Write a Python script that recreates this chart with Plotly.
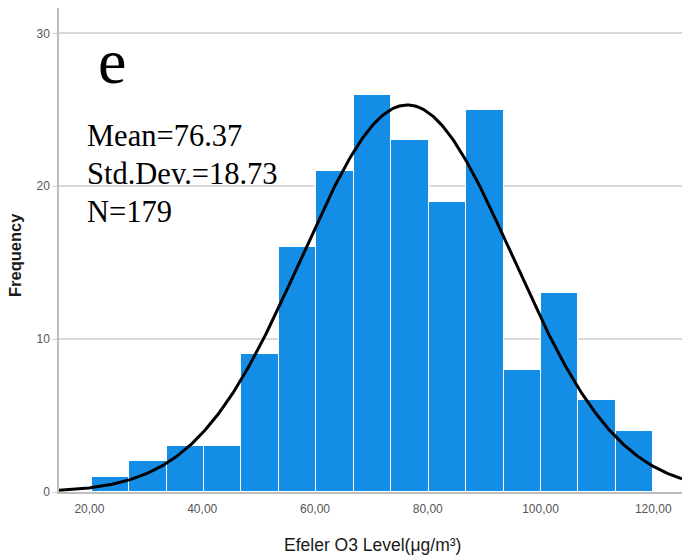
import numpy as np
import plotly.graph_objects as go

# Data
bin_start = 20.4
bin_width = 6.64
counts = [1, 2, 3, 3, 9, 16, 21, 26, 23, 19, 25, 8, 13, 6, 4]
mean_val = 76.37
sd_val = 18.73
n_val = 179
x_tickvals = [20, 40, 60, 80, 100, 120]
x_ticktext = ["20,00", "40,00", "60,00", "80,00", "100,00", "120,00"]
y_tickvals = [0, 10, 20, 30]
stats_lines = ["Mean=76.37", "Std.Dev.=18.73", "N=179"]
panel_label = "e"
x_title = "Efeler O3 Level(μg/m³)"
y_title = "Frequency"

centers = [bin_start + bin_width * (i + 0.5) for i in range(len(counts))]

x_min, x_max = 14.6, 125.1
xc = np.linspace(x_min, x_max, 400)
yc = n_val * bin_width / (sd_val * np.sqrt(2 * np.pi)) * np.exp(-0.5 * ((xc - mean_val) / sd_val) ** 2)

W, H = 682, 556
ML, MR, MT, MB = 59, 0, 8, 64
PW, PH = W - ML - MR, H - MT - MB


def px(xp):
    return (xp - ML) / PW


def py(yp):
    return (H - MB - yp) / PH


fig = go.Figure()
fig.add_trace(go.Bar(
    x=centers, y=counts, width=bin_width,
    marker=dict(color="#138DE6", line=dict(color="#FFFFFF", width=1)),
    hoverinfo="skip", showlegend=False,
))
fig.add_trace(go.Scatter(
    x=xc, y=yc, mode="lines",
    line=dict(color="#000000", width=3),
    hoverinfo="skip", showlegend=False,
))

ann = []
ann.append(dict(
    xref="paper", yref="paper", x=px(96), y=py(62),
    xanchor="left", yanchor="middle", text=panel_label, showarrow=False,
    font=dict(family="Liberation Serif", size=64, color="#000000"),
))
for i, s in enumerate(stats_lines):
    ann.append(dict(
        xref="paper", yref="paper", x=px(85), y=py(136 + 38 * i),
        xanchor="left", yanchor="middle", text=s, showarrow=False,
        font=dict(family="Liberation Serif", size=30.5, color="#000000"),
    ))
ann.append(dict(
    xref="paper", yref="paper", x=px(372), y=py(545),
    xanchor="center", yanchor="middle", text=x_title, showarrow=False,
    font=dict(family="Arial", size=17.5, color="#1A1A1A"),
))
ann.append(dict(
    xref="paper", yref="paper", x=px(15), y=py(255), textangle=-90,
    xanchor="center", yanchor="middle", text="<b>" + y_title + "</b>", showarrow=False,
    font=dict(family="Arial", size=16.5, color="#1A1A1A"),
))

fig.update_layout(
    width=W, height=H,
    margin=dict(l=ML, r=MR, t=MT, b=MB),
    paper_bgcolor="#FFFFFF", plot_bgcolor="#FFFFFF",
    bargap=0,
    annotations=ann,
    xaxis=dict(
        range=[x_min, x_max], tickvals=x_tickvals, ticktext=x_ticktext,
        automargin=False,
        showgrid=False, zeroline=False, showline=True, linecolor="#BDBDBD", linewidth=1.5,
        ticks="outside", ticklen=5, tickcolor="rgba(0,0,0,0)",
        tickfont=dict(family="Arial", size=12, color="#555555"),
    ),
    yaxis=dict(
        range=[0, 31.66], tickvals=y_tickvals, automargin=False,
        showgrid=True, gridcolor="#D9D9D9", gridwidth=1.5,
        zeroline=False, showline=True, linecolor="#BDBDBD", linewidth=1.5,
        ticks="outside", ticklen=5, tickcolor="#D0D0D0",
        tickfont=dict(family="Arial", size=12, color="#555555"),
    ),
)

fig.write_html(
    "out.html",
    config={"displayModeBar": False},
    post_script="document.body.style.margin='0';document.body.style.overflow='hidden';",
)
